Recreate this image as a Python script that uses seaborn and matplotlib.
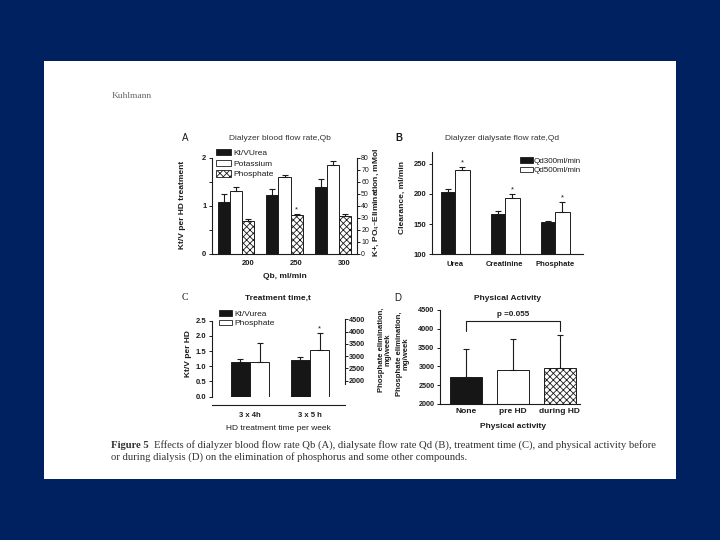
import numpy as np
import pandas as pd
import seaborn as sns
import matplotlib.pyplot as plt
from matplotlib.patches import Patch, Rectangle

# ---------------------------------------------------------
# values
# ---------------------------------------------------------
# A: dialyzer blood flow rate
qb_labels = ['200', '250', '300']
a_ktv = [1.08, 1.22, 1.39]
a_ktv_top = [1.25, 1.36, 1.56]
a_potassium = [52.8, 64.0, 74.0]          # mMol, right axis
a_potassium_top = [55.6, 66.0, 77.2]
a_phosphate = [27.8, 32.2, 32.0]          # mMol, right axis
a_phosphate_top = [29.4, 33.3, 33.0]

# B: dialysate flow rate
b_labels = ['Urea', 'Creatinine', 'Phosphate']
b_qd300 = [204, 166, 153]
b_qd300_top = [208, 172.5, 155]
b_qd500 = [239.5, 193.5, 170]
b_qd500_top = [245, 199.6, 187]

# C: treatment time
c_labels = ['3 x 4h', '3 x 5 h']
c_ktv = [1.15, 1.21]
c_ktv_top = [1.25, 1.31]
c_phosphate = [2775, 3250]                # mg/week, right axis
c_phosphate_top = [3525, 3955]

# D: physical activity
d_labels = ['None', 'pre HD', 'during HD']
d_phosphate = [2726, 2904, 2966]
d_phosphate_top = [3455, 3723, 3830]
d_bracket = (4215, 3950)                  # bracket level, leg ends
d_pvalue = 'p =0.055'

# ---------------------------------------------------------
# style
# ---------------------------------------------------------
INK = '#1c1c1c'
NAVY = '#00215f'
BLACK_BAR = '#161616'
HATCH = 'xxxxx'
W, H = 720, 540

sns.set_theme(style='ticks')
plt.rcParams['font.family'] = ['Liberation Sans', 'DejaVu Sans']
plt.rcParams['hatch.linewidth'] = 0.6
plt.rcParams['axes.linewidth'] = 0.8
plt.rcParams['axes.edgecolor'] = INK
plt.rcParams['text.color'] = INK


def fx(x):
    return x / W


def fy(y):
    return 1 - y / H


def box(l, t, r, b):
    return [l / W, 1 - b / H, (r - l) / W, (b - t) / H]


def caps(ax, container, tops):
    xs = [p.get_x() + p.get_width() / 2 for p in container]
    hs = np.array([p.get_height() for p in container])
    ax.errorbar(xs, hs, yerr=[np.zeros(len(hs)), np.array(tops) - hs],
                fmt='none', ecolor=INK, elinewidth=0.8, capsize=2.2,
                capthick=0.8, zorder=1)


def stars(ax, container, tops, idx):
    for i in idx:
        p = container[i]
        ax.annotate('*', xy=(p.get_x() + p.get_width() / 2, tops[i]),
                    xytext=(0, 0.5), textcoords='offset points',
                    ha='center', va='bottom', fontsize=5.5, color=INK)


def ticks(ax, bold=True, size=5.5):
    ax.tick_params(labelsize=size, length=2.5, width=0.7, pad=1.5, colors=INK)
    if bold:
        for t in ax.get_xticklabels() + ax.get_yticklabels():
            t.set_fontweight('bold')


fig = plt.figure(figsize=(7.2, 5.4), dpi=100, facecolor=NAVY)
fig.add_artist(Rectangle((fx(44), fy(479)), (676 - 44) / W, (479 - 61) / H,
                         transform=fig.transFigure, facecolor='white',
                         edgecolor='none', zorder=-5))

# =========================================================
# A
# =========================================================
A_SCALE = 40   # mMol per Kt/V unit
ax = fig.add_axes(box(212, 153.2, 357, 254))
ax.set_facecolor('none')
a_df = pd.DataFrame({
    'qb': qb_labels * 3,
    'series': ['Kt/VUrea'] * 3 + ['Potassium'] * 3 + ['Phosphate'] * 3,
    'value': a_ktv + [v / A_SCALE for v in a_potassium]
    + [v / A_SCALE for v in a_phosphate],
})
sns.barplot(data=a_df, x='qb', y='value', hue='series',
            palette=[BLACK_BAR, 'white', 'white'], width=0.75, saturation=1,
            edgecolor=INK, linewidth=0.7, errorbar=None, legend=False, ax=ax)
for p in ax.containers[2]:
    p.set_hatch(HATCH)
caps(ax, ax.containers[0], a_ktv_top)
caps(ax, ax.containers[1], [v / A_SCALE for v in a_potassium_top])
caps(ax, ax.containers[2], [v / A_SCALE for v in a_phosphate_top])
stars(ax, ax.containers[2], [v / A_SCALE for v in a_phosphate_top], [1])
ax.set_xlim(-0.51, 2.51)
ax.set_ylim(0, 2.1)
ax.set_yticks([0, 0.5, 1, 1.5, 2], ['0', '', '1', '', '2'])
ax.set_xticks(np.arange(len(qb_labels)) + 0.25, qb_labels)
ax.set_xlabel('')
ax.set_ylabel('')
ax.spines[['top', 'right']].set_visible(False)
ax.spines['left'].set_bounds(0, 2)
ticks(ax)
ax.tick_params(axis='x', length=0, pad=4)

tw = ax.twinx()
tw.set_ylim(0, 2.1 * A_SCALE)
tw.set_yticks(range(0, 81, 10))
tw.spines[['top', 'left', 'bottom']].set_visible(False)
tw.spines['right'].set_bounds(0, 80)
ticks(tw, bold=False, size=5)
tw.tick_params(length=2, pad=1)

ax.legend(handles=[Patch(facecolor=BLACK_BAR, edgecolor=INK, lw=0.6),
                   Patch(facecolor='white', edgecolor=INK, lw=0.6),
                   Patch(facecolor='white', edgecolor=INK, lw=0.6, hatch=HATCH)],
          labels=['Kt/VUrea', 'Potassium', 'Phosphate'],
          loc='upper left', bbox_to_anchor=(fx(216), fy(149)),
          bbox_transform=fig.transFigure, frameon=False, fontsize=6,
          handlelength=1.8, handleheight=0.8, handletextpad=0.3,
          labelspacing=0.3, borderpad=0, borderaxespad=0)

fig.text(fx(185), fy(138), 'A', fontsize=7, ha='center', va='center')
fig.text(fx(280), fy(138), 'Dialyzer blood flow rate,Qb', fontsize=6,
         ha='center', va='center', color='#333333')
fig.text(fx(183), fy(205), 'Kt/V per HD treatment', fontsize=6,
         weight='bold', rotation=90, ha='center', va='center')
fig.text(fx(376), fy(202), 'K+, PO$_4$\u2013Elimination, mMol', fontsize=6,
         weight='bold', rotation=90, ha='center', va='center')
fig.text(fx(285), fy(277), 'Qb, ml/min', fontsize=6, weight='bold',
         ha='center', va='center')

# =========================================================
# B
# =========================================================
ax = fig.add_axes(box(432, 151.7, 583, 254.3))
ax.set_facecolor('none')
b_df = pd.DataFrame({
    'solute': b_labels * 2,
    'rate': ['Qd300ml/min'] * 3 + ['Qd500ml/min'] * 3,
    'value': b_qd300 + b_qd500,
})
sns.barplot(data=b_df, x='solute', y='value', hue='rate',
            palette=[BLACK_BAR, 'white'], width=0.58, saturation=1,
            edgecolor=INK, linewidth=0.7, errorbar=None, legend=False, ax=ax)
caps(ax, ax.containers[0], b_qd300_top)
caps(ax, ax.containers[1], b_qd500_top)
stars(ax, ax.containers[1], b_qd500_top, [0, 1, 2])
ax.set_xlim(-0.46, 2.56)
ax.set_ylim(100, 270)
ax.set_yticks([100, 150, 200, 250])
ax.set_xlabel('')
ax.set_ylabel('')
ax.spines[['top', 'right']].set_visible(False)
ticks(ax)
ax.tick_params(axis='x', length=0, pad=5)
ax.legend(handles=[Patch(facecolor=BLACK_BAR, edgecolor=INK, lw=0.6),
                   Patch(facecolor='white', edgecolor=INK, lw=0.6)],
          labels=['Qd300ml/min', 'Qd500ml/min'],
          loc='upper left', bbox_to_anchor=(fx(520), fy(157)),
          bbox_transform=fig.transFigure, frameon=False, fontsize=5.8,
          handlelength=1.6, handleheight=0.7, handletextpad=0.1,
          labelspacing=0.25, borderpad=0, borderaxespad=0)

fig.text(fx(399), fy(138), 'B', fontsize=7, weight='bold',
         ha='center', va='center')
fig.text(fx(502), fy(138), 'Dialyzer dialysate flow rate,Qd', fontsize=6,
         ha='center', va='center', color='#333333')
fig.text(fx(402), fy(197), 'Clearance, ml/min', fontsize=6, weight='bold',
         rotation=90, ha='center', va='center')

# =========================================================
# C
# =========================================================
C_LEFT_TOP = 2.62
C_RIGHT = (1348, 4596)


def c_to_left(v):
    return (v - C_RIGHT[0]) / (C_RIGHT[1] - C_RIGHT[0]) * C_LEFT_TOP


ax = fig.add_axes(box(212, 317, 345, 396.7))
ax.set_facecolor('none')
c_df = pd.DataFrame({
    'time': c_labels * 2,
    'series': ['Kt/Vurea'] * 2 + ['Phosphate'] * 2,
    'value': c_ktv + [c_to_left(v) for v in c_phosphate],
})
sns.barplot(data=c_df, x='time', y='value', hue='series',
            palette=[BLACK_BAR, 'white'], width=0.64, saturation=1,
            edgecolor=INK, linewidth=0.7, errorbar=None, legend=False, ax=ax)
caps(ax, ax.containers[0], c_ktv_top)
caps(ax, ax.containers[1], [c_to_left(v) for v in c_phosphate_top])
stars(ax, ax.containers[1], [c_to_left(v) for v in c_phosphate_top], [1])
ax.set_xlim(-0.63, 1.58)
ax.set_ylim(0, C_LEFT_TOP)
ax.set_yticks(np.arange(0, 2.51, 0.5), [f'{v:.1f}' for v in np.arange(0, 2.51, 0.5)])
ax.set_xlabel('')
ax.set_ylabel('')
ax.spines[['top', 'right']].set_visible(False)
ax.spines['left'].set_bounds(0, 2.5)
ax.spines['bottom'].set_position(('outward', 6))
ticks(ax)
ax.tick_params(axis='x', length=0, pad=5)

tw = ax.twinx()
tw.set_ylim(*C_RIGHT)
tw.set_yticks(range(2000, 4501, 500))
tw.spines[['top', 'left', 'bottom']].set_visible(False)
tw.spines['right'].set_bounds(1850, 4500)
ticks(tw, size=5.2)
tw.tick_params(length=2, pad=1)

ax.legend(handles=[Patch(facecolor=BLACK_BAR, edgecolor=INK, lw=0.6),
                   Patch(facecolor='white', edgecolor=INK, lw=0.6)],
          labels=['Kt/Vurea', 'Phosphate'],
          loc='upper left', bbox_to_anchor=(fx(219), fy(310)),
          bbox_transform=fig.transFigure, frameon=False, fontsize=6,
          handlelength=1.6, handleheight=0.7, handletextpad=0.2,
          labelspacing=0.2, borderpad=0, borderaxespad=0)

fig.text(fx(185), fy(298), 'C', fontsize=7, family='Liberation Serif',
         ha='center', va='center')
fig.text(fx(278), fy(298), 'Treatment time,t', fontsize=6, weight='bold',
         ha='center', va='center')
fig.text(fx(189), fy(354), 'Kt/V per HD', fontsize=6, weight='bold',
         rotation=90, ha='center', va='center')
fig.text(fx(385), fy(350), 'Phosphate elimination,\nmg/week', fontsize=5.6,
         weight='bold', rotation=90, ha='center', va='center',
         linespacing=1.0)
fig.text(fx(278), fy(429), 'HD treatment time per week', fontsize=6,
         ha='center', va='center')

# =========================================================
# D
# =========================================================
ax = fig.add_axes(box(440, 310, 580, 404))
ax.set_facecolor('none')
sns.barplot(x=d_labels, y=d_phosphate, hue=d_labels,
            palette=[BLACK_BAR, 'white', 'white'], width=0.68, saturation=1,
            edgecolor=INK, linewidth=0.7, errorbar=None, legend=False, ax=ax)
ax.containers[2][0].set_hatch(HATCH)
for cont, top in zip(ax.containers, d_phosphate_top):
    caps(ax, cont, [top])
x_first = ax.containers[0][0].get_x() + ax.containers[0][0].get_width() / 2
x_last = ax.containers[2][0].get_x() + ax.containers[2][0].get_width() / 2
ax.plot([x_first, x_first, x_last, x_last],
        [d_bracket[1], d_bracket[0], d_bracket[0], d_bracket[1]],
        color=INK, lw=0.8, clip_on=False)
ax.annotate(d_pvalue, xy=((x_first + x_last) / 2, d_bracket[0]),
            xytext=(0, 2), textcoords='offset points', ha='center',
            va='bottom', fontsize=5.8, weight='bold')
ax.set_xlim(-0.55, 2.43)
ax.set_ylim(2000, 4500)
ax.set_yticks(range(2000, 4501, 500))
ax.spines[['top', 'right']].set_visible(False)
ticks(ax, size=5.2)
ax.tick_params(axis='x', length=0, pad=3)
for t in ax.get_xticklabels():
    t.set_fontsize(6)

fig.text(fx(398), fy(298), 'D', fontsize=7, ha='center', va='center')
fig.text(fx(507), fy(298), 'Physical Activity', fontsize=6, weight='bold',
         ha='center', va='center')
fig.text(fx(403), fy(354), 'Phosphate elimination,\nmg/week', fontsize=5.6,
         weight='bold', rotation=90, ha='center', va='center',
         linespacing=1.0)
fig.text(fx(513), fy(427), 'Physical activity', fontsize=6, weight='bold',
         ha='center', va='center')

# =========================================================
# page text
# =========================================================
fig.text(fx(112), fy(96), 'Kuhlmann', fontsize=6.8, family='Liberation Serif',
         color='#666666', ha='left', va='center')
fig.text(fx(111), fy(445.5), 'Figure 5', fontsize=7.7, weight='bold',
         family='Liberation Serif', color='#333333', ha='left', va='center')
fig.text(fx(154), fy(445.5),
         'Effects of dialyzer blood flow rate Qb (A), dialysate flow rate Qd (B), '
         'treatment time (C), and physical activity before',
         fontsize=7.7, family='Liberation Serif', color='#333333',
         ha='left', va='center')
fig.text(fx(111), fy(457),
         'or during dialysis (D) on the elimination of phosphorus and some other compounds.',
         fontsize=7.7, family='Liberation Serif', color='#333333',
         ha='left', va='center')

fig.savefig('out.png', dpi=100, facecolor=NAVY)
